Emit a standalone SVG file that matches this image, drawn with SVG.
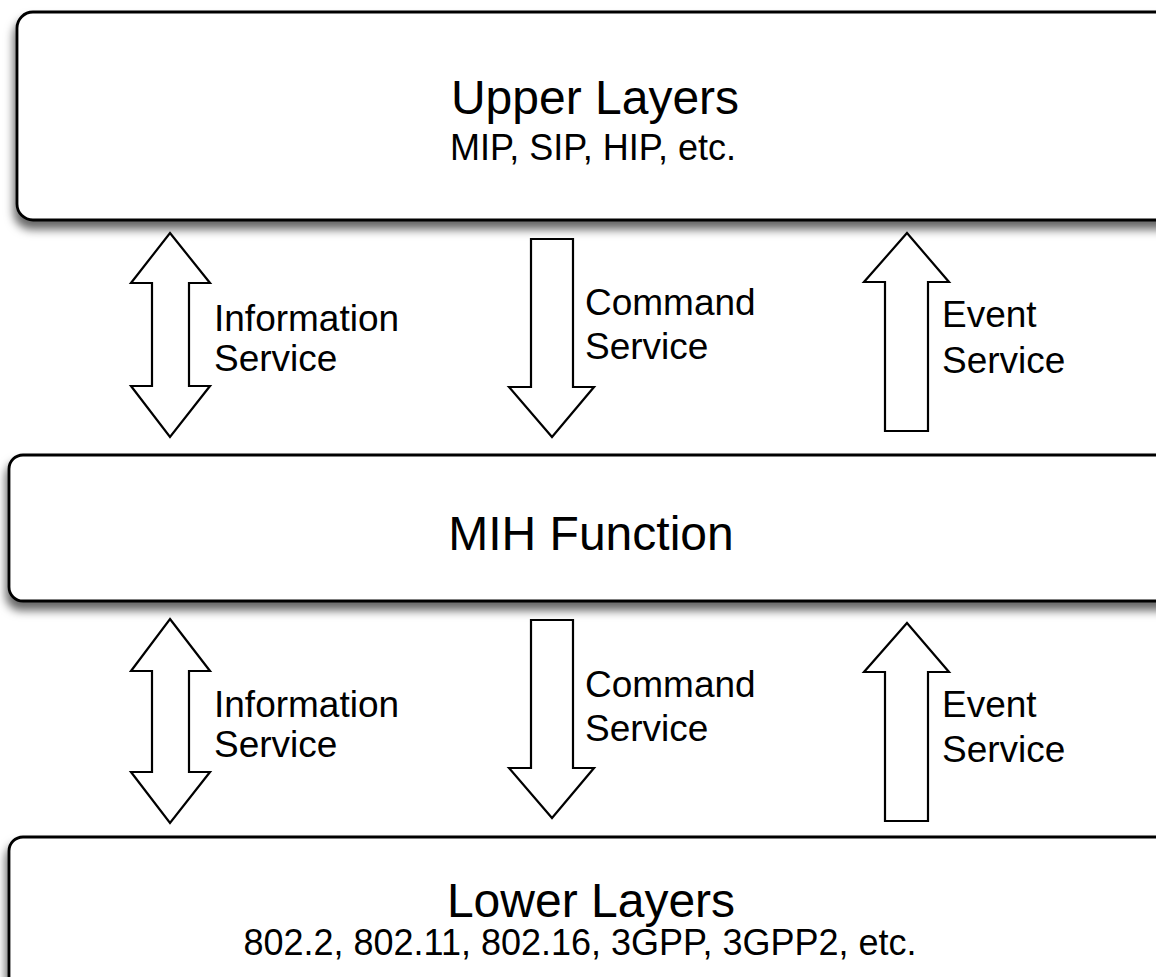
<svg xmlns="http://www.w3.org/2000/svg" width="1156" height="977" viewBox="0 0 1156 977">
<style>
.box{fill:#fff;stroke:#000;stroke-width:2.8;filter:url(#sh)}
.arr{fill:#fff;stroke:#000;stroke-width:2.2;stroke-linejoin:miter}
.t{font-family:"Liberation Sans",Arial,Helvetica,sans-serif;fill:#000}
.big{font-size:48px}
.mid{font-size:36px}
.lbl{font-size:37px}
</style>
<defs>
<filter id="sh" x="-10%" y="-20%" width="130%" height="150%">
<feDropShadow dx="-2" dy="8" stdDeviation="5" flood-color="#000" flood-opacity="0.6"/>
</filter>
</defs>
<rect width="1156" height="977" fill="#fff"/>
<g id="upper">
<rect class="box" x="17" y="12" width="1170" height="208" rx="16"/>
<text class="t big" x="595" y="114" text-anchor="middle">Upper Layers</text>
<text class="t mid" x="593" y="160" text-anchor="middle">MIP, SIP, HIP, etc.</text>
</g>
<g id="mih">
<rect class="box" x="9" y="455" width="1180" height="146" rx="14"/>
<text class="t big" x="591" y="550" text-anchor="middle">MIH Function</text>
</g>
<g id="lower">
<rect class="box" x="9" y="837" width="1180" height="200" rx="14"/>
<text class="t big" x="591" y="917" text-anchor="middle">Lower Layers</text>
<text class="t mid" x="580" y="955" text-anchor="middle">802.2, 802.11, 802.16, 3GPP, 3GPP2, etc.</text>
</g>
<g id="connectors">
<g id="info-upper">
<path class="arr" d="M170 233 L210 283 L189 283 L189 386 L210 386 L170 437 L131 386 L152 386 L152 283 L131 283 Z"/>
<text class="t lbl" x="214" y="331">Information</text>
<text class="t lbl" x="214" y="371">Service</text>
</g>
<g id="cmd-upper">
<path class="arr" d="M531 239 L573 239 L573 387 L594 387 L552 437 L509 387 L531 387 Z"/>
<text class="t lbl" x="585" y="315">Command</text>
<text class="t lbl" x="585" y="359">Service</text>
</g>
<g id="evt-upper">
<path class="arr" d="M907 233 L949 282 L928 282 L928 431 L885 431 L885 282 L864 282 Z"/>
<text class="t lbl" x="942" y="327">Event</text>
<text class="t lbl" x="942" y="373">Service</text>
</g>
<g id="info-lower">
<path class="arr" d="M170 619 L210 671 L189 671 L189 772 L210 772 L170 823 L131 772 L152 772 L152 671 L131 671 Z"/>
<text class="t lbl" x="214" y="717">Information</text>
<text class="t lbl" x="214" y="757">Service</text>
</g>
<g id="cmd-lower">
<path class="arr" d="M531 620 L573 620 L573 768 L594 768 L552 818 L509 768 L531 768 Z"/>
<text class="t lbl" x="585" y="697">Command</text>
<text class="t lbl" x="585" y="741">Service</text>
</g>
<g id="evt-lower">
<path class="arr" d="M907 623 L949 672 L928 672 L928 821 L885 821 L885 672 L864 672 Z"/>
<text class="t lbl" x="942" y="717">Event</text>
<text class="t lbl" x="942" y="762">Service</text>
</g>
</g>
</svg>
